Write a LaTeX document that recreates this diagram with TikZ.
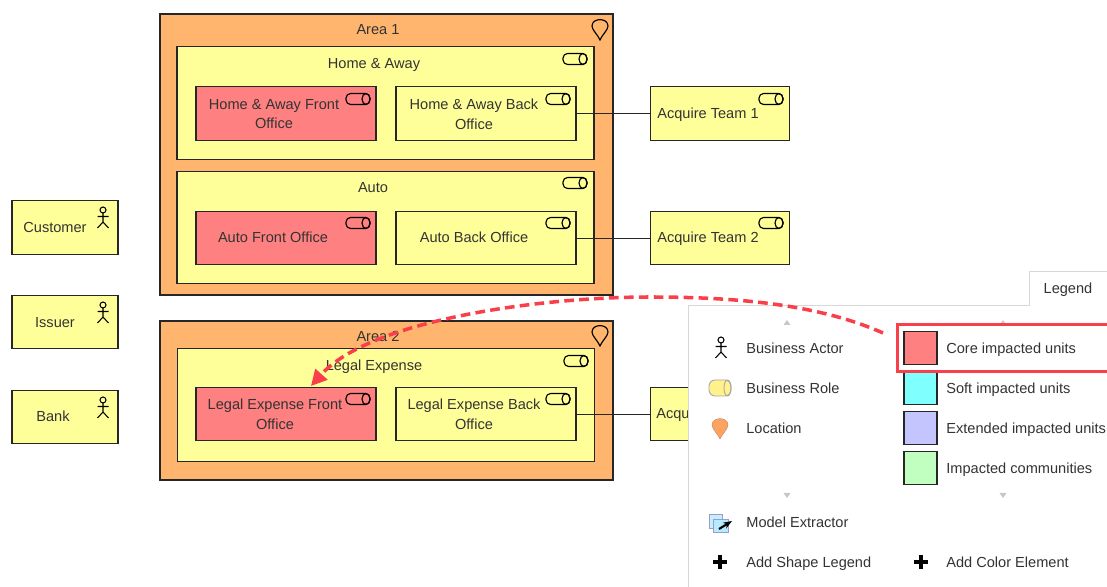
\documentclass[tikz,border=0pt]{standalone}
\usepackage{xcolor}
\usepackage{fontspec}
\setmainfont{Liberation Sans}
\usetikzlibrary{shapes,arrows,positioning,calc,arrows.meta}
\definecolor{unityellow}{HTML}{FFFF99}
\definecolor{areaorange}{HTML}{FFB56E}
\definecolor{corered}{HTML}{FF8080}
\definecolor{softcyan}{HTML}{80FFFF}
\definecolor{extblue}{HTML}{C4C4FF}
\definecolor{commgreen}{HTML}{C0FFC0}
\definecolor{markred}{HTML}{F9404A}
\definecolor{inkgray}{HTML}{333333}
\definecolor{panelgray}{HTML}{D8D8D8}
\tikzset{
    boxline/.style={draw=black!85, line width=0.65pt},
    txt/.style={text=inkgray, font=\fontsize{8.3}{11.3}\selectfont, align=center, inner sep=0pt, yshift=-1.1pt, execute at begin node=\strut, execute at end node=\strut},
    area/.style={boxline, fill=areaorange, minimum width=9.06cm},
    group/.style={boxline, fill=unityellow, minimum width=8.34cm, minimum height=2.25cm},
    unitbox/.style={boxline, fill=unityellow, minimum width=3.6cm, minimum height=1.07cm},
    frontbox/.style={unitbox, fill=corered},
    teambox/.style={unitbox, minimum width=2.77cm},
    actorbox/.style={unitbox, minimum width=2.12cm},
    swatch/.style={boxline, minimum size=0.66cm},
    roleicon/.pic={
        \draw[black, line width=0.65pt, rounded corners=2.6pt] (-12,-5.5) rectangle (12,5.5);
        \draw[black, line width=0.65pt] (8,0) ellipse (4 and 5.5);
    },
    legendrole/.pic={
        \draw[black!35, line width=0.5pt, fill=unityellow!90!orange, rounded corners=3.5pt] (-11,-8) rectangle (11,8);
        \draw[black!35, line width=0.5pt] (7.5,0) ellipse (3.5 and 8);
    },
    actoricon/.pic={
        \draw[black, line width=0.6pt] (0,-8) circle (3);
        \draw[black, line width=0.6pt] (0,-5) -- (0,4) (-5.5,-1.5) -- (5.5,-1.5) (-5.5,10) -- (0,4) -- (5.5,10);
    },
    pinicon/.pic={
        \draw[#1] (0,10) .. controls (-2,5) and (-8,0) .. (-8,-4) .. controls (-8,-12.5) and (8,-12.5) .. (8,-4) .. controls (8,0) and (2,5) .. (0,10) -- cycle;
    },
}
\begin{document}
\begin{tikzpicture}[x=0.02cm, y=-0.02cm]
    \clip (0,0) rectangle (1107,587);

    % Actors
    \node[actorbox] (customer) at (65,227.5) {};
    \node[txt] (customertxt) at (55,227) {Customer};
    \node[actorbox] (issuer) at (65,322) {};
    \node[txt] (issuertxt) at (55,322) {Issuer};
    \node[actorbox] (bank) at (65,417) {};
    \node[txt] (banktxt) at (53,416) {Bank};
    \foreach \y in {218,313,408} {
        \pic at (103,\y) {actoricon};
    }

    % Area 1
    \node[area, minimum height=5.62cm] (areaone) at (386.5,154.5) {};
    \node[txt] (areaonetxt) at (378,29) {Area 1};
    \node[group] (homeaway) at (385.5,103) {};
    \node[txt] (homeawaytxt) at (374,63) {Home \& Away};
    \node[frontbox] (hafront) at (286,113.5) {};
    \node[txt] (hafronttxt) at (274,115) {Home \& Away Front\\Office};
    \node[unitbox] (haback) at (486,113.5) {};
    \node[txt] (habacktxt) at (474,115) {Home \& Away Back\\Office};
    \node[group] (auto) at (385.5,227.5) {};
    \node[txt] (autotxt) at (373,187) {Auto};
    \node[frontbox] (autofront) at (286,238) {};
    \node[txt] (autofronttxt) at (273,237) {Auto Front Office};
    \node[unitbox] (autoback) at (486,238) {};
    \node[txt] (autobacktxt) at (474,237) {Auto Back Office};

    % Area 2
    \node[area, minimum height=3.18cm] (areatwo) at (386.5,400.5) {};
    \node[txt] (areatwotxt) at (378,336) {Area 2};
    \node[group] (legal) at (386,405) {};
    \node[txt] (legaltxt) at (374,365) {Legal Expense};
    \node[frontbox] (legalfront) at (286,414) {};
    \node[txt] (legalfronttxt) at (275,415) {Legal Expense Front\\Office};
    \node[unitbox] (legalback) at (486,414) {};
    \node[txt] (legalbacktxt) at (474,415) {Legal Expense Back\\Office};

    % Teams
    \node[teambox] (teamone) at (720,113.5) {};
    \node[txt] (teamonetxt) at (708,113) {Acquire Team 1};
    \node[teambox] (teamtwo) at (720,238) {};
    \node[txt] (teamtwotxt) at (708,237) {Acquire Team 2};
    \node[teambox] (teamthree) at (720,414) {};
    \node[txt, anchor=west] (teamthreetxt) at (656,413) {Acqu};
    \draw[black!85] (haback) -- (teamone);
    \draw[black!85] (autoback) -- (teamtwo);
    \draw[black!85] (legalback) -- (teamthree);

    \foreach \x/\y in {575/59,358/99,558/99,771/99,575/183,358/223,558/223,771/223,576/361,358/399,558/399} {
        \pic at (\x,\y) {roleicon};
    }
    \pic at (600,30) {pinicon={draw=black, line width=0.65pt}};
    \pic at (600,336) {pinicon={draw=black, line width=0.65pt}};

    % Legend panel
    \fill[white] (688,305) rectangle (1107,587) (1029,271) rectangle (1107,305);
    \draw[panelgray, line width=0.5pt] (688,587) -- (688,305) -- (1029,305) -- (1029,271) -- (1107,271);
    \node[txt] (legendtxt) at (1068,288) {Legend};
    \foreach \x in {787,1003} {
        \fill[black!22] (\x-3.5,325) -- (\x+3.5,325) -- (\x,320) -- cycle;
        \fill[black!22] (\x-3.5,493) -- (\x+3.5,493) -- (\x,498) -- cycle;
    }
    \pic at (721,348) {actoricon};
    \pic at (720,388) {legendrole};
    \pic at (720,429) {pinicon={fill=areaorange!90!red, draw=areaorange!70!black, line width=0.2pt}};
    \node[txt, anchor=west] (actortxt) at (746,348) {Business Actor};
    \node[txt, anchor=west] (roletxt) at (746,388) {Business Role};
    \node[txt, anchor=west] (locationtxt) at (746,428) {Location};
    \foreach \y/\col/\name/\lbl in {348/corered/core/Core impacted units,388/softcyan/soft/Soft impacted units,428/extblue/extended/Extended impacted units,468/commgreen/communities/Impacted communities} {
        \node[swatch, fill=\col] (\name) at (920.5,\y) {};
        \node[txt, anchor=west] (\name txt) at (946,\y) {\lbl};
    }

    % Model extractor and add buttons
    \draw[blue!30!gray!60, fill=blue!30!cyan!22] (709,514) rectangle (722,528);
    \draw[blue!30!gray!60, fill=blue!30!cyan!28] (713,519) rectangle (728,532);
    \draw[-{Stealth[length=5pt]}, black, line width=1.2pt] (719,529) -- (732,521);
    \node[txt, anchor=west] (extractortxt) at (746,522) {Model Extractor};
    \foreach \x in {720,921} {
        \draw[black, line width=2.1pt] (\x-7,562) -- (\x+7,562) (\x,555) -- (\x,569);
    }
    \node[txt, anchor=west] (addshapetxt) at (746,562) {Add Shape Legend};
    \node[txt, anchor=west] (addcolortxt) at (946,562) {Add Color Element};

    % Highlight and pointer
    \node[draw=markred, line width=1.8pt, outer sep=0pt, minimum width=5cm, minimum height=0.94cm, anchor=west] (corehilite) at (897.5,348) {};
    \coordinate (pointerstart) at (883,333);
    \coordinate (pointermid) at (650,297);
    \coordinate (pointerend) at (311,386);
    \draw[markred, line width=2pt, dash pattern=on 5.5pt off 3pt, -{Triangle[length=9pt,width=9pt]}] (pointerstart) .. controls (820,305) and (740,297) .. (pointermid) .. controls (540,297) and (370,320) .. (pointerend);
\end{tikzpicture}
\end{document}
